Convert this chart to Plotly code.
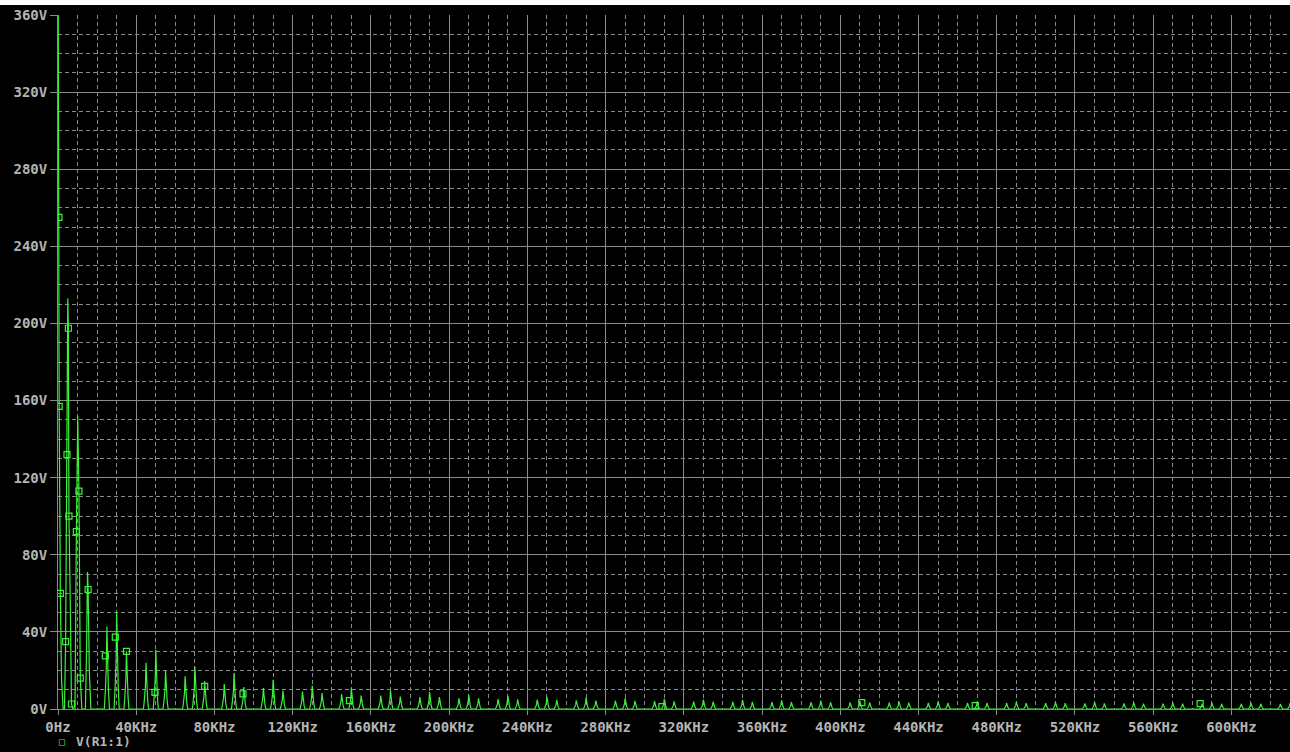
import plotly.graph_objects as go

# ---- data (kHz, V) ----
# low-frequency part of the trace (explicit polyline points)
lf_freq = [0, 0.3, 0.5, 0.6, 1.2, 1.8, 2.6, 3.3, 3.9, 4.6, 5.0, 5.3, 5.6, 6.3, 6.9, 7.6,
           8.7, 9.4, 10.1, 10.7, 11.4, 12.2, 14.0, 14.6, 15.1, 15.4, 16.0, 16.8, 20.0]
lf_volt = [420, 266, 255, 157, 60, 16, 0, 0, 35, 132, 213, 197.5, 100, 53, 2.6, 0,
           0, 92, 152, 113, 16, 0, 0, 30, 71, 62, 20, 0, 0]

# harmonic peaks above 20 kHz
peak_freq = [25, 30, 35, 45, 50, 55, 65, 70, 75, 85, 90, 95,
             105, 110, 115, 125, 130, 135, 145, 150, 155, 165, 170, 175,
             185, 190, 195, 205, 210, 215, 225, 230, 235, 245, 250, 255,
             265, 270, 275, 285, 290, 295, 305, 310, 315, 325, 330, 335,
             345, 350, 355, 365, 370, 375, 385, 390, 395, 405, 410, 415,
             425, 430, 435, 445, 450, 455, 465, 470, 475, 485, 490, 495,
             505, 510, 515, 525, 530, 535, 545, 550, 555, 565, 570, 575,
             585, 590, 595, 605, 610, 615, 625, 630, 635]
peak_volt = [42.8, 50.6, 30.0, 24.0, 30.7, 20.0, 17.0, 22.0, 14.5, 13.0, 18.5, 11.4,
             10.9, 15.2, 9.6, 9.1, 12.1, 8.3, 7.8, 10.9, 7.0, 7.0, 9.6, 6.5,
             6.2, 8.8, 6.2, 5.5, 7.4, 5.5, 5.2, 6.8, 5.0, 4.8, 6.3, 4.7,
             4.5, 5.9, 4.4, 4.3, 5.5, 4.2, 4.1, 5.2, 4.0, 3.9, 4.9, 3.8,
             3.8, 4.7, 3.7, 3.6, 4.5, 3.6, 3.5, 4.3, 3.5, 3.4, 4.1, 3.4,
             3.3, 4.0, 3.3, 3.2, 3.9, 3.2, 3.1, 3.8, 3.1, 3.1, 3.7, 3.0,
             3.0, 3.6, 3.0, 2.9, 3.5, 2.9, 2.9, 3.4, 2.8, 2.8, 3.3, 2.8,
             2.7, 3.3, 2.7, 2.7, 3.2, 2.7, 2.6, 3.1, 2.6]

# trace symbol markers (kHz, V)
mark_freq = [0.5, 0.6, 1.2, 3.9, 4.6, 5.3, 5.6, 6.9, 9.4, 10.7, 11.4, 15.4,
             24.2, 29.3, 35.0, 49.6, 75.0, 94.6, 149.0, 308.8, 411.0, 469.0, 584.0]
mark_volt = [255, 157, 60, 35, 132, 197.5, 100, 2.6, 92, 113, 16, 62,
             27.6, 37.3, 29.9, 8.6, 11.7, 7.8, 4.3, 1.2, 3.3, 1.7, 2.8]

x_tick_vals = [0, 40, 80, 120, 160, 200, 240, 280, 320, 360, 400, 440, 480, 520, 560, 600]
x_tick_text = ["0Hz", "40KHz", "80KHz", "120KHz", "160KHz", "200KHz", "240KHz", "280KHz",
               "320KHz", "360KHz", "400KHz", "440KHz", "480KHz", "520KHz", "560KHz", "600KHz"]
y_tick_vals = [0, 40, 80, 120, 160, 200, 240, 280, 320, 360]
y_tick_text = ["0V", "40V", "80V", "120V", "160V", "200V", "240V", "280V", "320V", "360V"]

# spike drawing profile (line shape around each FFT peak)
SPIKE_DX = [-1.3, -0.8, -0.3, 0.0, 0.3, 0.8, 1.3]
SPIKE_FR = [0.0, 0.22, 0.5, 1.0, 0.5, 0.22, 0.0]

xs = list(lf_freq)
ys = list(lf_volt)
for f, v in zip(peak_freq, peak_volt):
    for dx, fr in zip(SPIKE_DX, SPIKE_FR):
        xs.append(f + dx)
        ys.append(v * fr)

GREEN = "#3cf03c"
GRID = "#8a8a8a"
TXT = "#b4b4b4"
FONT = dict(family="DejaVu Sans Mono", size=14, color=TXT, weight="bold")

fig = go.Figure()
fig.add_trace(go.Scatter(x=xs, y=ys, mode="lines",
                         line=dict(color=GREEN, width=1.2), hoverinfo="skip",
                         showlegend=False))
fig.add_trace(go.Scatter(x=mark_freq, y=mark_volt, mode="markers",
                         marker=dict(symbol="square-open", size=6,
                                     color=GREEN, line=dict(color=GREEN, width=1.2)),
                         showlegend=False, cliponaxis=True, hoverinfo="skip"))

W, H = 1290, 752
ML, MR, MT, MB = 58, 0, 15, 43
pw = W - ML - MR
ph = H - MT - MB

fig.update_layout(
    width=W, height=H,
    margin=dict(l=ML, r=MR, t=MT, b=MB, autoexpand=False),
    paper_bgcolor="black", plot_bgcolor="black",
    showlegend=False,
    xaxis=dict(range=[0, pw / 1.9557], tickvals=x_tick_vals, ticktext=x_tick_text,
               automargin=False,
               showgrid=True, gridcolor=GRID, gridwidth=1.2, zeroline=False,
               showline=True, linecolor=GRID, linewidth=1,
               ticks="outside", ticklen=5, tickcolor=GRID, tickfont=FONT,
               minor=dict(dtick=10, tick0=0, showgrid=True, gridcolor=GRID,
                          griddash="4px,3px", gridwidth=1, ticks="")),
    yaxis=dict(range=[0, 360], tickvals=y_tick_vals, ticktext=y_tick_text,
               automargin=False,
               showgrid=True, gridcolor=GRID, gridwidth=1.2, zeroline=False,
               showline=True, linecolor=GRID, linewidth=1,
               ticks="outside", ticklen=7, tickcolor=GRID, tickfont=FONT,
               minor=dict(dtick=10, tick0=0, showgrid=True, gridcolor=GRID,
                          griddash="4px,3px", gridwidth=1, ticks="")),
    shapes=[dict(type="rect", xref="paper", yref="paper",
                 x0=-ML / pw, x1=1.0, y0=1 + (MT - 5) / ph, y1=1 + MT / ph,
                 fillcolor="white", line=dict(width=0), layer="above")],
    annotations=[
        dict(xref="paper", yref="paper", x=(62 - ML) / pw, y=-(741 - (H - MB)) / ph,
             text="□", showarrow=False, xanchor="center", yanchor="middle",
             font=dict(family="DejaVu Sans Mono", size=10, color=GREEN)),
        dict(xref="paper", yref="paper", x=(74 - ML) / pw, y=-(741 - (H - MB)) / ph,
             text="V(R1:1)", showarrow=False, xanchor="left", yanchor="middle",
             font=dict(family="DejaVu Sans Mono", size=13, color=TXT, weight="bold")),
    ],
)

fig.write_html("out.html",
               config={"displayModeBar": False},
               post_script="document.body.style.margin='0';document.body.style.overflow='hidden';")
